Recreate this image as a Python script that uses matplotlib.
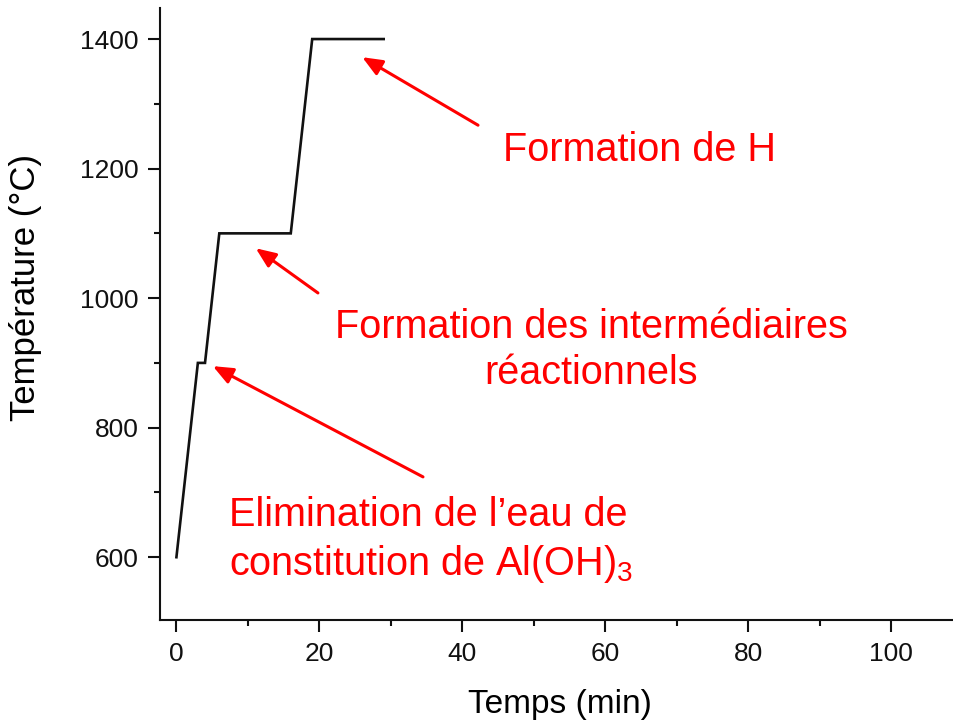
import matplotlib
matplotlib.use("Agg")
import matplotlib.pyplot as plt
from matplotlib.ticker import MultipleLocator

plt.rcParams['font.family'] = ['Liberation Sans', 'DejaVu Sans']
plt.rcParams['mathtext.default'] = 'regular'

# Data
time_min = [0, 3, 4, 6, 16, 19, 29]
temperature_c = [600, 900, 900, 1100, 1100, 1400, 1400]

x_label = "Temps (min)"
y_label = "Température (°C)"

annotations = [
    ("Formation de H", (26.0, 1372), (42.2, 1267), (64.8, 1229), 'center'),
    ("Formation des intermédiaires\nréactionnels", (11.1, 1077), (19.8, 1008), (58.0, 920), 'center'),
    ("Elimination de l’eau de\nconstitution de Al(OH)$_3$", (5.1, 895), (34.5, 724), (7.3, 626), 'left'),
]

fig = plt.figure(figsize=(9.54, 7.24), dpi=100)
ax = fig.add_axes([0.1677, 0.1436, 0.8323, 0.8454])

ax.plot(time_min, temperature_c, color='#111111', lw=1.9, solid_joinstyle='miter')

ax.set_xlim(-2.3, 108.8)
ax.set_ylim(503, 1448)

ax.xaxis.set_major_locator(MultipleLocator(20))
ax.xaxis.set_minor_locator(MultipleLocator(10))
ax.yaxis.set_major_locator(MultipleLocator(200))
ax.yaxis.set_minor_locator(MultipleLocator(100))

for s in ['top', 'right']:
    ax.spines[s].set_visible(False)
for s in ['left', 'bottom']:
    ax.spines[s].set_linewidth(1.5)
    ax.spines[s].set_color('#111111')

ax.tick_params(which='major', direction='out', length=8.5, width=1.5, labelsize=19, colors='#111111', pad=7)
ax.tick_params(which='minor', direction='out', length=4, width=1.5, colors='#111111')

ax.set_xlabel(x_label, fontsize=24)
ax.set_ylabel(y_label, fontsize=25)
ax.xaxis.set_label_coords(0.504, -0.112)
ax.yaxis.set_label_coords(-0.148, 0.544)

for text, tip, tail, tpos, align in annotations:
    ax.annotate('', xy=tip, xytext=tail,
                arrowprops=dict(arrowstyle='-|>,head_length=1.2,head_width=0.5', color='red', lw=2.2,
                                shrinkA=0, shrinkB=0))
    ax.text(tpos[0], tpos[1], text, color='red', fontsize=28.5, ha=align, va='center',
            multialignment=align, linespacing=1.28)

fig.savefig('out.png', dpi=100)
